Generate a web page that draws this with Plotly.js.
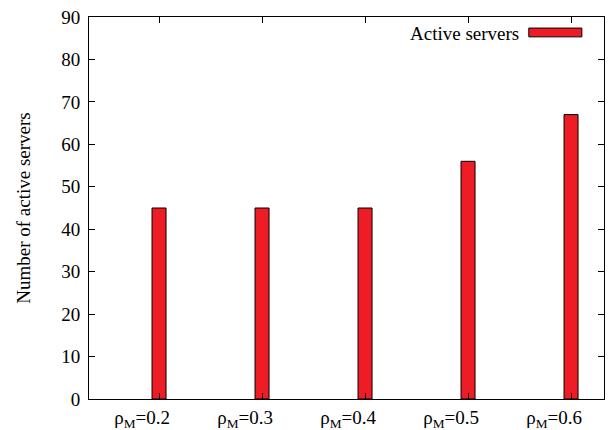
<!DOCTYPE html>
<html><head><meta charset="utf-8">
<script src="https://cdn.plot.ly/plotly-3.0.1.min.js"></script>
<style>body{margin:0;background:#fff}#c{width:613px;height:430px}</style>
</head><body><div id="c"></div>
<script>
const categories = ["ρ<sub>M</sub>=0.2","ρ<sub>M</sub>=0.3","ρ<sub>M</sub>=0.4","ρ<sub>M</sub>=0.5","ρ<sub>M</sub>=0.6"];
const positions = [0,1,2,3,4];
const activeServers = [45,45,45,56,67];
const seriesName = "Active servers";
const yTicks = [0,10,20,30,40,50,60,70,80,90];

const F = "Liberation Serif, Times New Roman, serif";
const red = "#ee1d25";
const trace = {
  type: "bar", x: positions, y: activeServers, name: seriesName,
  width: 0.136, marker: {color: red, line: {color: "#000", width: 1}},
  showlegend: false, hoverinfo: "skip"
};
const layout = {
  width: 613, height: 430,
  margin: {l: 89, r: 9, t: 17, b: 31},
  paper_bgcolor: "#fff", plot_bgcolor: "#fff",
  font: {family: F, size: 19, color: "#000"},
  xaxis: {
    range: [-0.68, 4.32], tickvals: positions, ticktext: categories,
    ticks: "inside", ticklen: 6, tickcolor: "#000", mirror: "allticks",
    showline: true, linecolor: "#000", linewidth: 1, showgrid: false, zeroline: false,
    ticklabelshift: -17, ticklabelstandoff: 1, tickfont: {family: F, size: 19},
    fixedrange: true
  },
  yaxis: {
    range: [0, 90], tickvals: yTicks,
    ticks: "inside", ticklen: 6, tickcolor: "#000", mirror: "allticks",
    showline: true, linecolor: "#000", linewidth: 1, showgrid: false, zeroline: false,
    ticklabelstandoff: 4, tickfont: {family: F, size: 19},
    title: {text: "Number of active servers", standoff: 25, font: {family: F, size: 19}},
    fixedrange: true
  },
  annotations: [{
    xref: "paper", yref: "paper", x: 0.838, y: 0.958, xanchor: "right", yanchor: "middle",
    text: seriesName, showarrow: false, font: {family: F, size: 19, color: "#000"}
  }],
  shapes: [{
    type: "rect", xref: "paper", yref: "paper", x0: 0.854, x1: 0.957, y0: 0.948, y1: 0.971,
    fillcolor: red, line: {color: "#000", width: 1}
  }]
};
Plotly.newPlot("c", [trace], layout, {displayModeBar: false, staticPlot: true});
</script></body></html>
